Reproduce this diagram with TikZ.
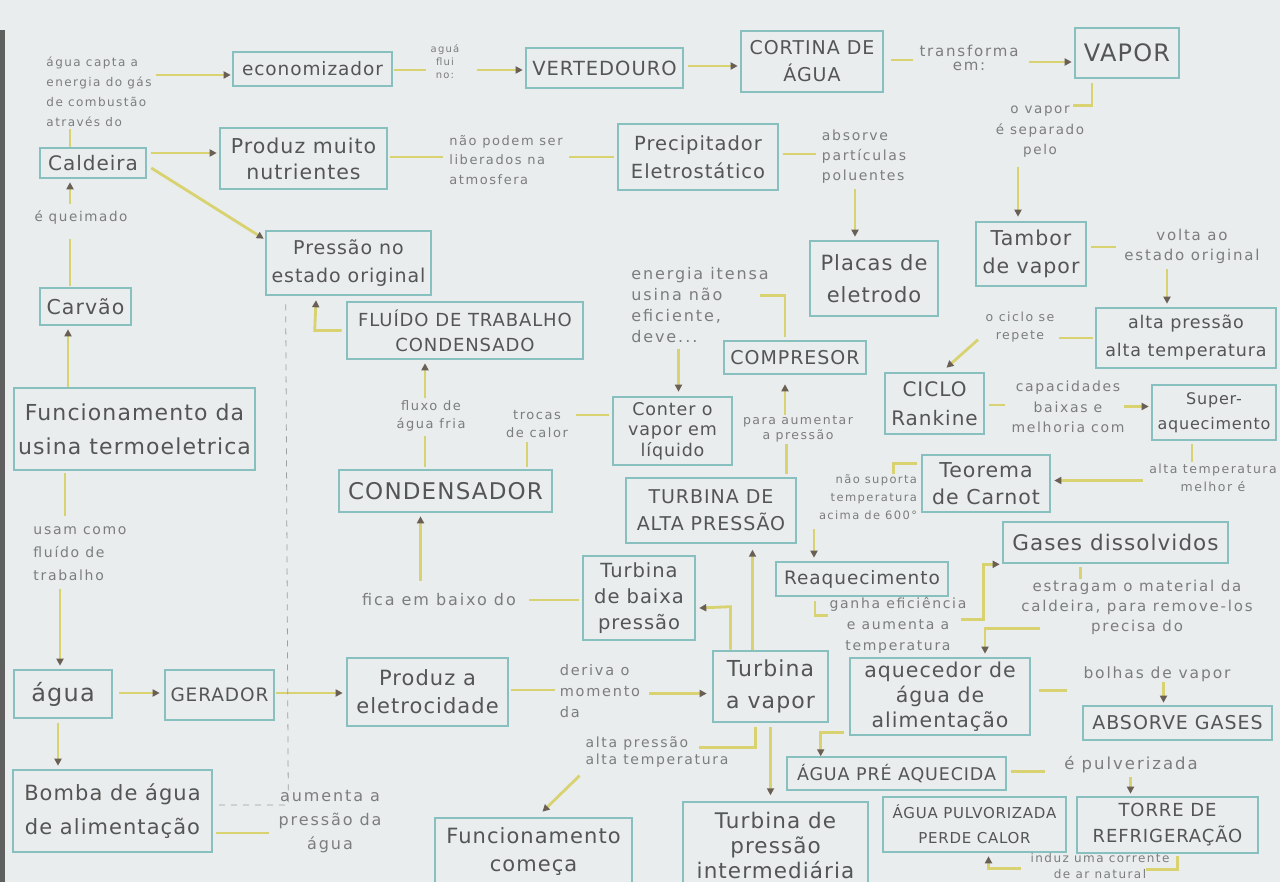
\documentclass[tikz,border=0pt]{standalone}
\usepackage{fontspec}
\setmainfont{DejaVu Sans}
\newfontfamily\boxfont[LetterSpace=5]{DejaVu Sans}
\newfontfamily\labfont[LetterSpace=12]{DejaVu Sans}
\usetikzlibrary{arrows.meta,calc}
\definecolor{paper}{RGB}{233,237,237}
\definecolor{boxc}{RGB}{136,191,191}
\definecolor{conc}{RGB}{216,210,112}
\definecolor{boxt}{RGB}{85,85,85}
\definecolor{labt}{RGB}{125,125,125}
\definecolor{tipc}{RGB}{105,95,85}
\definecolor{edgec}{RGB}{95,95,95}
\begin{document}
\begin{tikzpicture}[x=1pt,y=-1pt,
  bf/.style 2 args={font=\boxfont\fontsize{#1}{#2}\selectfont},
  box/.style={draw=boxc, line width=2.6pt, text=boxt, align=center, inner sep=1pt, bf={20}{26}},
  sz/.style 2 args={minimum width=#1pt, minimum height=#2pt},
  lab/.style 2 args={text=labt, align=center, inner sep=1pt, font=\labfont\fontsize{#1}{#2}\selectfont},
  link/.style={draw=conc, line width=2.8pt},
  arr/.style={link, -{Triangle[length=7pt,width=7pt,color=tipc]}},
  dashline/.style={draw=gray!75, line width=0.8pt, dash pattern=on 6pt off 6pt}]
\useasboundingbox (0,0) rectangle (1280,882);
\clip (0,0) rectangle (1280,882);
\fill[paper] (0,0) rectangle (1280,882);
\fill[edgec] (0,30) rectangle (5,882);

% ---------- boxes ----------
\node[box,sz={159}{34},bf={18.5}{24}] (econ) at (312.5,69) {economizador};
\node[box,sz={157}{40},bf={19.5}{24}] (vert) at (604.5,68) {VERTEDOURO};
\node[box,sz={142}{61},bf={19}{27}] (cort) at (812,61.5) {CORTINA DE\\ÁGUA};
\node[box,sz={104}{50},bf={24}{28}] (vapor) at (1127,53) {VAPOR};
\node[box,sz={106}{30},bf={20}{24}] (cald) at (93,163) {Caldeira};
\node[box,sz={167}{61},bf={20.5}{26}] (prodnut) at (303.5,158.5) {Produz muito\\nutrientes};
\node[box,sz={160}{66},bf={19.5}{28}] (precip) at (698,157) {Precipitador\\Eletrostático};
\node[box,sz={165}{64},bf={19}{28}] (pressao) at (348.5,263) {Pressão no\\estado original};
\node[box,sz={128}{75},bf={21}{32}] (placas) at (874,278.5) {Placas de\\eletrodo};
\node[box,sz={110}{64},bf={20.5}{28}] (tambor) at (1031,254) {Tambor\\de vapor};
\node[box,sz={91}{37},bf={20.5}{24}] (carvao) at (85.5,306.5) {Carvão};
\node[box,sz={236}{57},bf={18}{25}] (fluido) at (465,330.5) {FLUÍDO DE TRABALHO\\CONDENSADO};
\node[box,sz={142}{33},bf={19}{24}] (compresor) at (795,357.5) {COMPRESOR};
\node[box,sz={180}{60},bf={17.5}{28}] (altap) at (1186,338) {alta pressão\\alta temperatura};
\node[box,sz={99}{61},bf={20}{29}] (ciclo) at (934.5,403.5) {CICLO\\Rankine};
\node[box,sz={124}{55},bf={16}{25}] (super) at (1214,412.5) {Super-\\aquecimento};
\node[box,sz={241}{82},bf={22}{34}] (func) at (134.5,429) {Funcionamento da\\usina termoeletrica};
\node[box,sz={119}{68},bf={17.5}{20.5}] (conter) at (672.5,431) {Conter o\\vapor em\\líquido};
\node[box,sz={213}{42},bf={23}{26}] (condens) at (445.5,491) {CONDENSADOR};
\node[box,sz={170}{65},bf={19}{27}] (turbalta) at (711,510.5) {TURBINA DE\\ALTA PRESSÃO};
\node[box,sz={128}{57},bf={20.5}{27}] (carnot) at (986,483.5) {Teorema\\de Carnot};
\node[box,sz={225}{41},bf={21.5}{26}] (gases) at (1115.5,542.5) {Gases dissolvidos};
\node[box,sz={172}{34},bf={18.5}{24}] (reaq) at (862,579) {Reaquecimento};
\node[box,sz={112}{84},bf={19.5}{26}] (turbbaixa) at (639,598) {Turbina\\de baixa\\pressão};
\node[box,sz={98}{48},bf={24}{28}] (agua) at (63,694) {água};
\node[box,sz={109}{50},bf={18.5}{24}] (gerador) at (219.5,695) {GERADOR};
\node[box,sz={161}{68},bf={21}{28}] (prodelet) at (427.5,692) {Produz a\\eletrocidade};
\node[box,sz={115}{71},bf={22}{32}] (turbvapor) at (770.5,686.5) {Turbina\\a vapor};
\node[box,sz={180}{77},bf={20.5}{25}] (aquec) at (940,696.5) {aquecedor de\\água de\\alimentação};
\node[box,sz={189}{34},bf={19}{24}] (absorve) at (1177.5,723) {ABSORVE GASES};
\node[box,sz={199}{82},bf={21}{34}] (bomba) at (112.5,811) {Bomba de água\\de alimentação};
\node[box,sz={219}{33},bf={17.5}{22}] (aguapre) at (896.5,773.5) {ÁGUA PRÉ AQUECIDA};
\node[box,sz={197}{68},bf={21}{28}] (funccom) at (533.5,852) {Funcionamento\\começa};
\node[box,sz={185}{86},bf={21.5}{25}] (turbint) at (775.5,845) {Turbina de\\pressão\\intermediária};
\node[box,sz={183}{55},bf={15}{25}] (aguapulv) at (974.5,824.5) {ÁGUA PULVORIZADA\\PERDE CALOR};
\node[box,sz={181}{56},bf={18}{26}] (torre) at (1167.5,825) {TORRE DE\\REFRIGERAÇÃO};

% ---------- labels ----------
\node[lab={12}{20},align=left] (lcapta) at (99,92) {água capta a\\energia do gás\\de combustão\\através do};
\node[lab={10}{13}] (lflui) at (445,62) {aguá\\flui\\no:};
\node[lab={15}{14}] (ltransf) at (969,58) {transforma\\em:};
\node[lab={13}{19.5},align=left] (lnaopod) at (506,160) {não podem ser\\liberados na\\atmosfera};
\node[lab={14}{20},align=left] (labsorve) at (864,157) {absorve\\partículas\\poluentes};
\node[lab={13.5}{20.5}] (lvaporsep) at (1040,132) {o vapor\\é separado\\pelo};
\node[lab={13.5}{16}] (lqueim) at (81,218) {é queimado};
\node[lab={15}{20}] (lvolta) at (1192,246) {volta ao\\estado original};
\node[lab={16}{21},align=left] (lenergia) at (700,305) {energia itensa\\usina não\\eficiente,\\deve...};
\node[lab={12.5}{18}] (lciclo) at (1020,327) {o ciclo se\\repete};
\node[lab={13}{18}] (lfluxo) at (431,416) {fluxo de\\água fria};
\node[lab={13}{18}] (ltrocas) at (537,424) {trocas\\de calor};
\node[lab={12.5}{15}] (lpara) at (798,429) {para aumentar\\a pressão};
\node[lab={14}{20.5}] (lcapac) at (1068,407) {capacidades\\baixas e\\melhoria com};
\node[lab={11.5}{18},align=right] (lnaosup) at (868,497) {não suporta\\temperatura\\acima de 600°};
\node[lab={12.5}{18}] (laltatemp) at (1213,478) {alta temperatura\\melhor é};
\node[lab={14}{23},align=left] (lusam) at (80,554) {usam como\\fluído de\\trabalho};
\node[lab={16}{16}] (lfica) at (439,600) {fica em baixo do};
\node[lab={14}{21}] (lganha) at (898,625) {ganha eficiência\\e aumenta a\\temperatura};
\node[lab={15}{20}] (lestragam) at (1137,607) {estragam o material da\\caldeira, para remove-los\\precisa do};
\node[lab={14.5}{21},align=left] (lderiva) at (600,691) {deriva o\\momento\\da};
\node[lab={15.5}{16}] (lbolhas) at (1157,674) {bolhas de vapor};
\node[lab={14}{17.5},align=left] (laltapres) at (657,752) {alta pressão\\alta temperatura};
\node[lab={16.5}{16}] (lpulv) at (1131,765) {é pulverizada};
\node[lab={16}{24}] (laumenta) at (330,822) {aumenta a\\pressão da\\água};
\node[lab={12}{16}] (linduz) at (1100,866) {induz uma corrente\\de ar natural};

% ---------- connectors ----------
\draw[arr] ($(econ.west)+(-76,6)$) -- ($(econ.west)+(-1,6)$);
\draw[link] ($(cald.north)+(-23,0)$) -- ($(cald.north)+(-23,-18)$);
\draw[link] ($(econ.east)+(1,1)$) -- ($(econ.east)+(33,1)$);
\draw[arr] ($(vert.west)+(-48,2)$) -- ($(vert.west)+(-2,2)$);
\draw[arr] ($(vert.east)+(4,-2)$) -- ($(cort.west)+(-2,4.5)$);
\draw[link] ($(cort.east)+(7,-1.5)$) -- ($(cort.east)+(29,-1.5)$);
\draw[arr] ($(vapor.west)+(-45,9)$) -- ($(vapor.west)+(-2,9)$);
\draw[link] ($(vapor.south)+(-35,4)$) -- ($(vapor.south)+(-35,26)$) -- ($(vapor.south)+(-54,26)$);
\draw[arr] ($(tambor.north)+(-13,-54)$) -- ($(tambor.north)+(-13,-4)$);
\draw[link] ($(tambor.east)+(4,-7)$) -- ($(tambor.east)+(29,-7)$);
\draw[arr] ($(altap.north)+(-19,-38)$) -- ($(altap.north)+(-19,-3)$);
\draw[link] ($(altap.west)+(-2,0)$) -- ($(altap.west)+(-36,0)$);
\draw[arr] ($(ciclo.north)+(43.5,-32)$) -- ($(ciclo.north)+(12,-4)$);
\draw[link] ($(ciclo.east)+(4,1.5)$) -- ($(ciclo.east)+(20,1.5)$);
\draw[arr] ($(super.west)+(-27,-6)$) -- ($(super.west)+(-2,-6)$);
\draw[link] ($(super.south)+(-22,3)$) -- ($(super.south)+(-22,21)$);
\draw[arr] ($(carnot.east)+(92,-3)$) -- ($(carnot.east)+(3,-3)$);
\draw[link] ($(carnot.west)+(-4,-20)$) -- ($(carnot.west)+(-27,-20)$) -- ($(carnot.west)+(-27,-10)$);
\draw[arr] ($(reaq.north)+(-48,-32)$) -- ($(reaq.north)+(-48,-3)$);
\draw[link] ($(reaq.south)+(-47,4)$) -- ($(reaq.south)+(-47,18)$) -- ($(reaq.south)+(-34,18)$);
\draw[arr] ($(gases.south west)+(-41,55)$) -- ($(gases.south west)+(-18,55)$) -- ($(gases.south west)+(-18,0)$) -- ($(gases.south west)+(-2,0)$);
\draw[link] ($(gases.south)+(-35,3)$) -- ($(gases.south)+(-35,15)$);
\draw[arr] ($(aquec.north)+(100,-28)$) -- ($(aquec.north)+(45,-28)$) -- ($(aquec.north)+(45,-3)$);
\draw[link] ($(aquec.east)+(8,-6)$) -- ($(aquec.east)+(36,-6)$);
\draw[arr] ($(absorve.north)+(-14,-23)$) -- ($(absorve.north)+(-14,-2)$);
\draw[arr] ($(aquec.south west)+(-5,-4)$) -- ($(aquec.south west)+(-28,-4)$) -- ($(aquec.south west)+(-28,20)$);
\draw[link] ($(aguapre.east)+(4,-2)$) -- ($(aguapre.east)+(38,-2)$);
\draw[arr] ($(torre.north)+(-37,-19)$) -- ($(torre.north)+(-37,-2)$);
\draw[link] ($(torre.south)+(10,2)$) -- ($(torre.south)+(10,15)$) -- ($(torre.south)+(-22,15)$);
\draw[arr] ($(aguapulv.south)+(46,15)$) -- ($(aguapulv.south)+(14,15)$) -- ($(aguapulv.south)+(14,3)$);
\draw[arr] ($(turbvapor.north)+(-18,0)$) -- ($(turbvapor.north)+(-18,-100)$);
\draw[arr] ($(turbvapor.north)+(-40,0)$) -- ($(turbvapor.north)+(-40,-43)$) -- ($(turbbaixa.east)+(3,10)$);
\draw[arr] ($(turbvapor.south)+(0,4)$) -- ($(turbvapor.south)+(0,72)$);
\draw[link] ($(turbvapor.south)+(-15,4)$) -- ($(turbvapor.south)+(-15,24)$) -- ($(turbvapor.south)+(-72,24)$);
\draw[arr] ($(funccom.north)+(46,-41)$) -- ($(funccom.north)+(9,-5)$);
\draw[link] ($(prodelet.east)+(2,-2)$) -- ($(prodelet.east)+(46,-2)$);
\draw[arr] ($(turbvapor.west)+(-63,7)$) -- ($(turbvapor.west)+(-5,7)$);
\draw[link] ($(turbalta.north east)+(-11,-3)$) -- ($(turbalta.north east)+(-11,-33)$);
\draw[arr] ($(compresor.south)+(-10,40)$) -- ($(compresor.south)+(-10,9)$);
\draw[link] ($(compresor.north)+(-10,-3)$) -- ($(compresor.north)+(-10,-44)$) -- ($(compresor.north)+(-35,-44)$);
\draw[arr] ($(conter.north)+(6,-47)$) -- ($(conter.north)+(6,-4)$);
\draw[link] ($(conter.west)+(-3,-16)$) -- ($(conter.west)+(-36,-16)$);
\draw[link] ($(condens.north)+(81.5,-2)$) -- ($(condens.north)+(81.5,-27)$);
\draw[link] ($(condens.north)+(-20.5,-2)$) -- ($(condens.north)+(-20.5,-33)$);
\draw[arr] ($(fluido.south)+(-40,38)$) -- ($(fluido.south)+(-40,3)$);
\draw[arr] ($(fluido.west)+(-4,0)$) -- ($(fluido.west)+(-31,0)$) -- ($(pressao.south)+(-32.5,4)$);
\draw[arr] ($(condens.south)+(-25,68)$) -- ($(condens.south)+(-25,3)$);
\draw[link] ($(turbbaixa.west)+(-3,2)$) -- ($(turbbaixa.west)+(-53,2)$);
\draw[arr] ($(cald.east)+(4,-10)$) -- ($(prodnut.west)+(-2,-5.5)$);
\draw[arr] ($(cald.east)+(4,5)$) -- ($(pressao.north west)+(-1,9)$);
\draw[link] ($(prodnut.east)+(2,-1.5)$) -- ($(prodnut.east)+(55,-1.5)$);
\draw[link] ($(precip.west)+(-48,0)$) -- ($(precip.west)+(-3,0)$);
\draw[link] ($(precip.east)+(4,-3)$) -- ($(precip.east)+(37,-3)$);
\draw[arr] ($(placas.north)+(-19,-51)$) -- ($(placas.north)+(-19,-3)$);
\draw[link] ($(carvao.north)+(-15.5,-1)$) -- ($(carvao.north)+(-15.5,-48)$);
\draw[arr] ($(cald.south)+(-23,25)$) -- ($(cald.south)+(-23,3)$);
\draw[arr] ($(func.north)+(-66.5,0)$) -- ($(carvao.south)+(-17.5,3)$);
\draw[link] ($(func.south)+(-69.5,2)$) -- ($(func.south)+(-69.5,45)$);
\draw[arr] ($(agua.north)+(-3,-80)$) -- ($(agua.north)+(-3,-3)$);
\draw[arr] ($(agua.east)+(6,-1)$) -- ($(gerador.west)+(-4,-2)$);
\draw[arr] ($(gerador.east)+(1,-2)$) -- ($(prodelet.west)+(-3,1)$);
\draw[arr] ($(agua.south)+(-5,4)$) -- ($(bomba.north)+(-54.5,-3)$);
\draw[link] ($(bomba.east)+(3,22)$) -- ($(bomba.east)+(56,22)$);
\draw[dashline] ($(pressao.south west)+(21,8)$) -- ($(bomba.east)+(75,-6)$) -- ($(bomba.east)+(4,-6)$);
\end{tikzpicture}
\end{document}
